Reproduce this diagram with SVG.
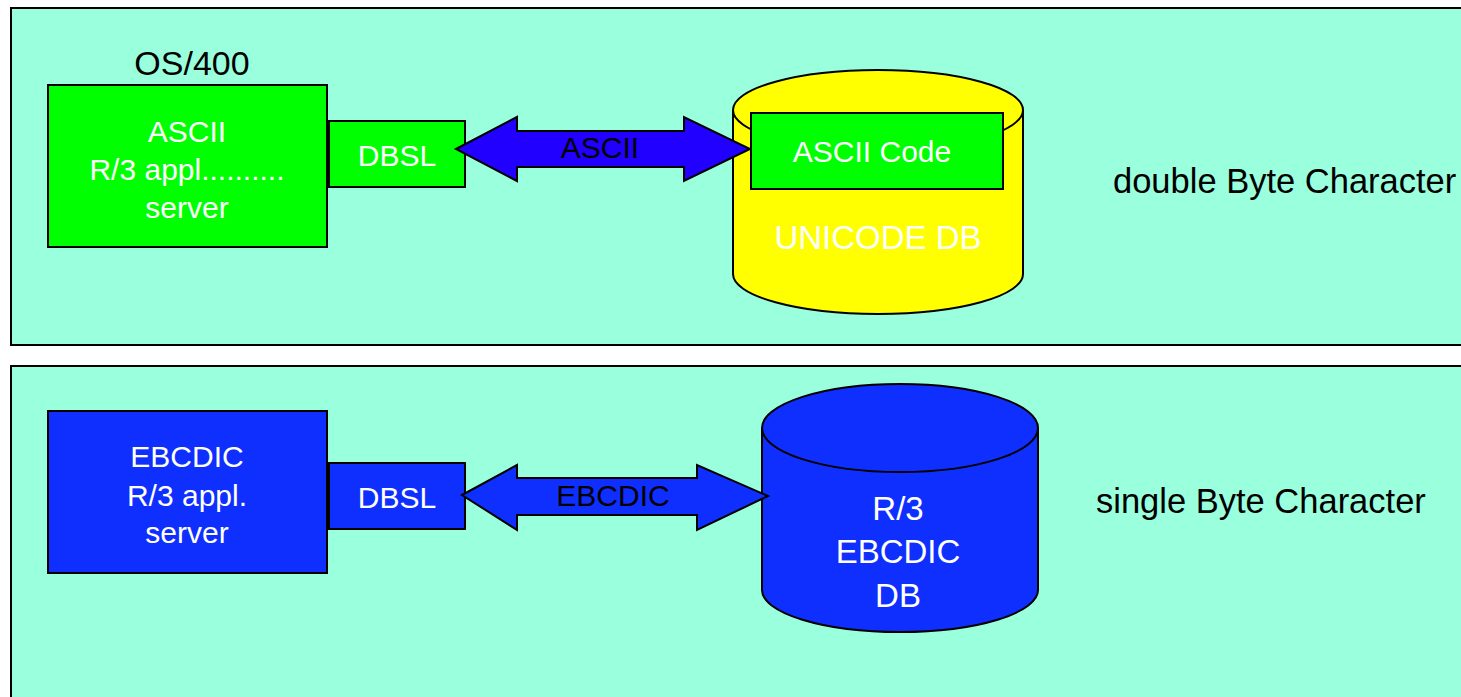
<svg xmlns="http://www.w3.org/2000/svg" width="1461" height="697" viewBox="0 0 1461 697">
<style>
.panel{fill:#99FFDD;stroke:#000;stroke-width:2}
.g{fill:#00FF00;stroke:#000;stroke-width:2}
.b{fill:#0F2FFF;stroke:#000;stroke-width:2}
.y{fill:#FFFF00;stroke:#000;stroke-width:2}
text{font-family:"Liberation Sans",Arial,sans-serif;text-anchor:middle}
.w{fill:#fff;font-size:30px}
.k{fill:#000;font-size:30px}
.big{font-size:33px}
.side{fill:#000;font-size:34.5px;text-anchor:start}
</style>
<rect width="1461" height="697" fill="#fff"/>
<g id="panel-top"><rect class="panel" x="11" y="8" width="1460" height="337"/></g>
<g id="panel-bottom"><rect class="panel" x="11" y="366" width="1460" height="340"/></g>

<g id="os400-label"><text class="k" x="192" y="75" style="font-size:34px">OS/400</text></g>
<g id="ascii-server">
  <rect class="g" x="48" y="85" width="279" height="162"/>
  <text class="w" x="187" y="142">ASCII</text>
  <text class="w" x="187" y="180">R/3 appl..........</text>
  <text class="w" x="187" y="218">server</text>
</g>
<g id="dbsl-top">
  <rect class="g" x="329" y="121" width="136" height="66"/>
  <text class="w" x="397" y="166">DBSL</text>
</g>
<g id="unicode-db">
  <path class="y" d="M733,110 A145,40 0 0 1 1023,110 L1023,274 A145,40 0 0 1 733,274 Z"/>
  <path d="M733,110 A145,40 0 0 0 1023,110" fill="none" stroke="#000" stroke-width="2"/>
  <rect class="g" x="751" y="113" width="252" height="76"/>
  <text class="w" x="872" y="162">ASCII Code</text>
  <text class="w big" x="878" y="249">UNICODE DB</text>
</g>
<g id="double-label"><text class="side" x="1113" y="193">double Byte Character</text></g>

<g id="ebcdic-server">
  <rect class="b" x="48" y="411" width="279" height="162"/>
  <text class="w" x="187" y="467">EBCDIC</text>
  <text class="w" x="187" y="506">R/3 appl.</text>
  <text class="w" x="187" y="543">server</text>
</g>
<g id="dbsl-bottom">
  <rect class="b" x="329" y="463" width="136" height="66"/>
  <text class="w" x="397" y="508">DBSL</text>
</g>
<g id="ebcdic-db">
  <path class="b" d="M762,428 A138,44 0 0 1 1038,428 L1038,590 A138,42 0 0 1 762,590 Z"/>
  <path d="M762,428 A138,44 0 0 0 1038,428" fill="none" stroke="#000" stroke-width="2"/>
  <text class="w big" x="898" y="520">R/3</text>
  <text class="w big" x="898" y="563">EBCDIC</text>
  <text class="w big" x="898" y="607">DB</text>
</g>
<g id="single-label"><text class="side" x="1096" y="513">single Byte Character</text></g>

<g id="connectors">
  <polygon points="456,149 517,117 517,131 684,131 684,117 750,149 684,181 684,167 517,167 517,181" fill="#2200FF" stroke="#000" stroke-width="2"/>
  <text class="k" x="600" y="158">ASCII</text>
  <polygon points="462,495 517,465 517,478 697,478 697,465 768,496 697,530 697,515 517,515 517,530" fill="#0F2FFF" stroke="#000" stroke-width="2"/>
  <text class="k" x="613" y="506">EBCDIC</text>
</g>
</svg>
